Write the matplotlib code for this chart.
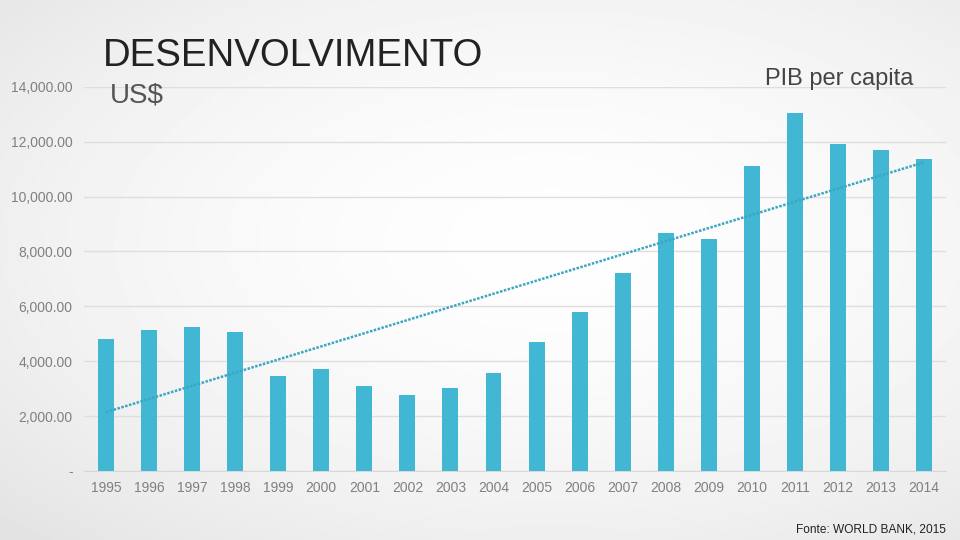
import numpy as np
import matplotlib
matplotlib.use("Agg")
import matplotlib.pyplot as plt
from matplotlib.ticker import FuncFormatter

years = [1995, 1996, 1997, 1998, 1999, 2000, 2001, 2002, 2003, 2004,
         2005, 2006, 2007, 2008, 2009, 2010, 2011, 2012, 2013, 2014]
pib = [4813, 5141, 5250, 5068, 3464, 3719, 3099, 2771, 3026, 3573,
       4703, 5797, 7219, 8677, 8459, 11120, 13053, 11922, 11704, 11375]
yticks = [0, 2000, 4000, 6000, 8000, 10000, 12000, 14000]

plt.rcParams['font.family'] = ['Liberation Sans', 'DejaVu Sans']

fig = plt.figure(figsize=(9.6, 5.4), dpi=100)

# soft radial background, a bit darker towards the left edge
bg = fig.add_axes([0, 0, 1, 1], zorder=-10)
gx, gy = np.meshgrid(np.linspace(-1, 1, 480), np.linspace(-1, 1, 270))
r = np.sqrt(((gx - 0.15) * 0.85) ** 2 + ((gy + 0.1) * 0.9) ** 2)
shade = np.clip(0.995 - 0.06 * r ** 1.8, 0, 1)
bg.imshow(shade, cmap='gray', vmin=0, vmax=1, aspect='auto', extent=[0, 1, 0, 1])
bg.axis('off')

ax = fig.add_axes([0.088, 0.128, 0.897, 0.711])
ax.patch.set_alpha(0)
x = np.arange(len(years))
ax.bar(x, pib, width=0.37, color='#41b7d3', zorder=3)

# linear trend line
k, b = np.polyfit(x, pib, 1)
ax.plot(x, k * x + b, linestyle=(0, (1, 0.6)), color='#3ba6bf', linewidth=1.8, zorder=4)

ax.set_xlim(-0.5, len(years) - 0.5)
ax.set_ylim(0, 14000)
ax.set_yticks(yticks)
ax.yaxis.set_major_formatter(FuncFormatter(lambda v, p: '-' if v == 0 else '{:,.2f}'.format(v)))
ax.set_xticks(x)
ax.set_xticklabels([str(y) for y in years])
ax.grid(axis='y', color='#dedede', linewidth=1, zorder=0)
for s in ['top', 'right', 'left']:
    ax.spines[s].set_visible(False)
ax.spines['bottom'].set_color('#d8d8d8')
ax.tick_params(axis='both', length=0, colors='#808080', labelsize=10)
ax.tick_params(axis='y', pad=8.5)
ax.tick_params(axis='x', pad=7)

fig.text(0.107, 0.878, 'DESENVOLVIMENTO', fontsize=27.6, color='#222222')
fig.text(0.114, 0.811, 'US$', fontsize=20, color='#555555')
fig.text(0.951, 0.843, 'PIB per capita', fontsize=17, color='#444444', ha='right')
fig.text(0.985, 0.013, 'Fonte: WORLD BANK, 2015', fontsize=8.6, color='#222222', ha='right')

fig.savefig('out.png', dpi=100)
